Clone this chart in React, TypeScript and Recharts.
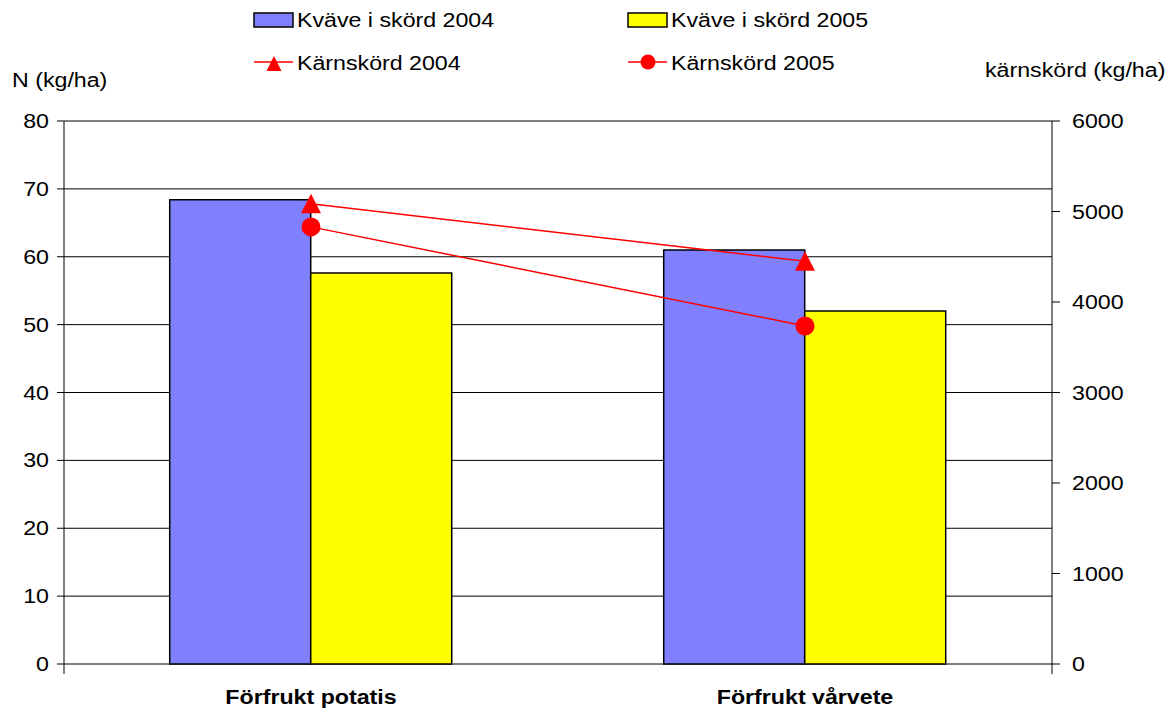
import React from 'react';
import {
  ComposedChart,
  Bar,
  Line,
  XAxis,
  YAxis,
  CartesianGrid,
  Legend,
} from 'recharts';

const categories = ['Förfrukt potatis', 'Förfrukt vårvete'];
const kvave2004 = [68.4, 61.0];
const kvave2005 = [57.6, 52.0];
const karn2004 = [5085, 4450];
const karn2005 = [4830, 3735];

const leftTicks = [0, 10, 20, 30, 40, 50, 60, 70, 80];
const rightTicks = [0, 1000, 2000, 3000, 4000, 5000, 6000];
const edgeTicks = [0, 1, 2];

const data = categories.map((name, i) => ({
  name,
  kvave2004: kvave2004[i],
  kvave2005: kvave2005[i],
  karn2004: karn2004[i],
  karn2005: karn2005[i],
}));

const FONT = '"Liberation Sans", Arial, sans-serif';
const BLUE = '#8080FF';
const YELLOW = '#FFFF00';
const RED = '#FF0000';
const SX = 1.16; // the reference text is a bit wider than plain Arial

const txt = { fontFamily: FONT, fontSize: 20, fill: '#000' };

// text drawn at (x, y) and stretched horizontally
const Wide = ({ x, y, anchor = 'start', bold = false, children }: any) => (
  <text
    transform={`translate(${x},${y}) scale(${SX},1)`}
    textAnchor={anchor}
    style={{ ...txt, fontWeight: bold ? 'bold' : 'normal' }}
  >
    {children}
  </text>
);

const TriangleDot = (props: any) => {
  const { cx, cy, index } = props;
  if (cx == null || cy == null) return null;
  return (
    <path
      key={`t-${index}`}
      d={`M${cx},${cy - 10} L${cx + 10},${cy + 9.5} L${cx - 10},${cy + 9.5} Z`}
      fill={RED}
    />
  );
};

const CircleDot = (props: any) => {
  const { cx, cy, index } = props;
  if (cx == null || cy == null) return null;
  return <circle key={`c-${index}`} cx={cx} cy={cy} r={9.5} fill={RED} />;
};

const LeftTick = ({ x, y, payload }: any) => (
  <Wide x={x} y={y + 7} anchor="end">{payload.value}</Wide>
);

const RightTick = ({ x, y, payload }: any) => (
  <Wide x={x} y={y + 7}>{payload.value}</Wide>
);

const CatTick = ({ x, y, payload }: any) => (
  <Wide x={x} y={y + 39} anchor="middle" bold>{payload.value}</Wide>
);

const renderLegend = () => (
  <svg width={1170} height={110} style={{ display: 'block' }}>
    <rect x={254} y={13} width={39} height={14} fill={BLUE} stroke="#000" strokeWidth={1.5} />
    <Wide x={297} y={27}>Kväve i skörd 2004</Wide>
    <rect x={628} y={13} width={39} height={14} fill={YELLOW} stroke="#000" strokeWidth={1.5} />
    <Wide x={671} y={27}>Kväve i skörd 2005</Wide>

    <line x1={254} x2={293} y1={62} y2={62} stroke={RED} strokeWidth={1.5} />
    <path d="M274,56 L281.5,71 L266.5,71 Z" fill={RED} />
    <Wide x={297} y={70}>Kärnskörd 2004</Wide>
    <line x1={628} x2={667} y1={62} y2={62} stroke={RED} strokeWidth={1.5} />
    <circle cx={648} cy={62} r={7.5} fill={RED} />
    <Wide x={671} y={70}>Kärnskörd 2005</Wide>
  </svg>
);

export default function App() {
  return (
    <div style={{ position: 'absolute', left: 0, top: 0, width: 1170, height: 710, background: '#fff' }}>
      <ComposedChart
        width={1170}
        height={710}
        data={data}
        margin={{ top: 121, right: 0, bottom: 0, left: 0 }}
        barCategoryGap="21.4%"
        barGap={0}
      >
        <CartesianGrid xAxisId="b" yAxisId="left" vertical={false} stroke="#000" strokeWidth={1} />
        {/* boundary tick marks between the categories */}
        <XAxis
          xAxisId="a"
          type="number"
          domain={[0, 2]}
          ticks={edgeTicks}
          height={1}
          axisLine={false}
          tickSize={10}
          tickLine={{ stroke: '#000' }}
          tick={() => <g />}
        />
        <XAxis
          xAxisId="b"
          dataKey="name"
          height={45}
          tickSize={0}
          tickMargin={0}
          axisLine={false}
          tickLine={false}
          tick={<CatTick />}
        />
        <YAxis
          yAxisId="left"
          width={64}
          domain={[0, 80]}
          ticks={leftTicks}
          tickSize={7}
          tickMargin={8}
          axisLine={{ stroke: '#000' }}
          tickLine={{ stroke: '#000' }}
          tick={<LeftTick />}
          label={{
            content: ({ viewBox }: any) => (
              <Wide x={12} y={viewBox.y - 34}>N (kg/ha)</Wide>
            ),
          }}
        />
        <YAxis
          yAxisId="right"
          orientation="right"
          width={118}
          domain={[0, 6000]}
          ticks={rightTicks}
          tickSize={8}
          tickMargin={12}
          axisLine={{ stroke: '#000' }}
          tickLine={{ stroke: '#000' }}
          tick={<RightTick />}
          label={{
            content: ({ viewBox }: any) => (
              <Wide x={985} y={viewBox.y - 44}>kärnskörd (kg/ha)</Wide>
            ),
          }}
        />
        <Legend
          layout="horizontal"
          verticalAlign="middle"
          align="center"
          wrapperStyle={{ top: 0, left: 0, width: 1170, height: 110 }}
          content={renderLegend}
        />
        <Bar
          xAxisId="b"
          yAxisId="left"
          dataKey="kvave2004"
          name="Kväve i skörd 2004"
          fill={BLUE}
          stroke="#000"
          strokeWidth={1.5}
          isAnimationActive={false}
        />
        <Bar
          xAxisId="b"
          yAxisId="left"
          dataKey="kvave2005"
          name="Kväve i skörd 2005"
          fill={YELLOW}
          stroke="#000"
          strokeWidth={1.5}
          isAnimationActive={false}
        />
        <Line
          xAxisId="b"
          yAxisId="right"
          dataKey="karn2004"
          name="Kärnskörd 2004"
          stroke={RED}
          strokeWidth={1.5}
          dot={<TriangleDot />}
          activeDot={false}
          isAnimationActive={false}
        />
        <Line
          xAxisId="b"
          yAxisId="right"
          dataKey="karn2005"
          name="Kärnskörd 2005"
          stroke={RED}
          strokeWidth={1.5}
          dot={<CircleDot />}
          activeDot={false}
          isAnimationActive={false}
        />
      </ComposedChart>
    </div>
  );
}
